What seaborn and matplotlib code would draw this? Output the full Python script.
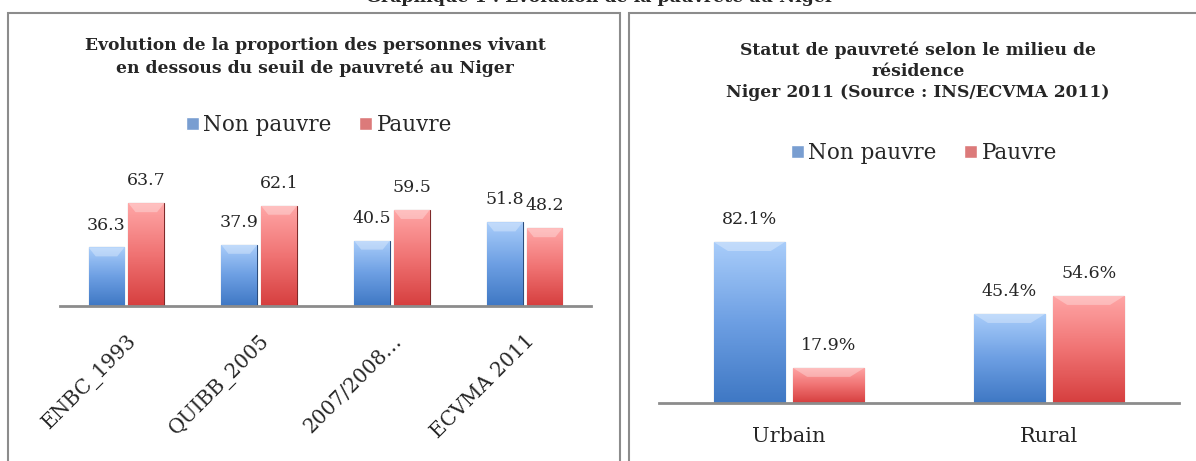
import numpy as np
import pandas as pd
import matplotlib
matplotlib.use("Agg")
import matplotlib.pyplot as plt
import seaborn as sns
from matplotlib.patches import Rectangle, Polygon
from matplotlib.colors import LinearSegmentedColormap

# Data
statuts = ["Non pauvre", "Pauvre"]
enquetes = ["ENBC_1993", "QUIBB_2005", "2007/2008…", "ECVMA 2011"]
non_pauvre_evol = [36.3, 37.9, 40.5, 51.8]
pauvre_evol = [63.7, 62.1, 59.5, 48.2]

milieux = ["Urbain", "Rural"]
non_pauvre_milieu = [82.1, 45.4]
pauvre_milieu = [17.9, 54.6]

df_evol = pd.DataFrame({
    "enquete": enquetes * 2,
    "statut": [statuts[0]] * 4 + [statuts[1]] * 4,
    "valeur": non_pauvre_evol + pauvre_evol,
})
df_milieu = pd.DataFrame({
    "milieu": milieux * 2,
    "statut": [statuts[0]] * 2 + [statuts[1]] * 2,
    "valeur": non_pauvre_milieu + pauvre_milieu,
})

sns.set_style("white")
plt.rcParams["font.family"] = ["DejaVu Serif"]

palette = {"Non pauvre": "#6a9be0", "Pauvre": "#ec6a6a"}
edges = {"Non pauvre": "#2c4d7c", "Pauvre": "#7e2a2a"}
grads = {
    "Non pauvre": LinearSegmentedColormap.from_list("b", ["#3f78c4", "#6d9fe3", "#a9cdfa"]),
    "Pauvre": LinearSegmentedColormap.from_list("r", ["#d63f3f", "#f07373", "#ffa6a6"]),
}

fig = plt.figure(figsize=(11.96, 4.61), dpi=100)
W, H = 1196, 461


def fx(px):
    return px / W


def fy(py):
    return 1 - py / H


# panel frames
for x0, x1 in [(8, 620), (629, 1215)]:
    fig.patches.append(Rectangle((fx(x0), fy(470)), fx(x1 - x0), (470 - 13) / H,
                                 transform=fig.transFigure, fill=False,
                                 edgecolor="#8c8c8c", linewidth=1.5))

# page caption, cut by the top edge as in the source
fig.text(fx(600), fy(1.5), "Graphique 1 : Evolution de la pauvreté au Niger",
         ha="center", va="baseline", fontsize=12.5, fontweight="bold")

ax1 = fig.add_axes([fx(60), fy(306), fx(531), 113 / H])
ax2 = fig.add_axes([fx(659), fy(403), fx(520), 176.5 / H])


def gradient_bars(ax, hue_levels, n_cat, ax_px_h):
    bars = [p for p in ax.patches if p.get_height() > 0]
    xl, yl = ax.get_xlim(), ax.get_ylim()
    g = np.linspace(0, 1, 100).reshape(-1, 1)
    bevel = 9 * (yl[1] - yl[0]) / ax_px_h
    for i, p in enumerate(bars):
        lvl = hue_levels[i // n_cat]
        p.set_edgecolor(edges[lvl])
        p.set_linewidth(0.8)
        x0, y0 = p.get_x(), p.get_y()
        w, h = p.get_width(), p.get_height()
        im = ax.imshow(g, cmap=grads[lvl], origin="lower", aspect="auto",
                       extent=[x0, x0 + w, y0, y0 + h],
                       zorder=p.get_zorder() + 0.1)
        im.set_clip_path(p)
        top = y0 + h
        ax.add_patch(Polygon([(x0, top), (x0 + w, top), (x0 + 0.8 * w, top - bevel),
                              (x0 + 0.2 * w, top - bevel)], closed=True,
                             facecolor="white", alpha=0.3, linewidth=0,
                             zorder=p.get_zorder() + 0.2))
    ax.set_xlim(xl)
    ax.set_ylim(yl)


def style_axis(ax, ymax):
    ax.set_ylim(0, ymax)
    ax.set_yticks([])
    ax.set_xlabel("")
    ax.set_ylabel("")
    for s in ["top", "left", "right"]:
        ax.spines[s].set_visible(False)
    ax.spines["bottom"].set_color("#8c8c8c")
    ax.spines["bottom"].set_linewidth(2)
    ax.spines["bottom"].set_zorder(5)
    ax.tick_params(axis="x", length=0)
    ax.patch.set_alpha(0)


# left chart
sns.barplot(data=df_evol, x="enquete", y="valeur", hue="statut", hue_order=statuts,
            palette=palette, width=0.6, gap=0.1, errorbar=None, ax=ax1)
style_axis(ax1, 70)
for c in ax1.containers:
    ax1.bar_label(c, fmt="%.1f", padding=10, fontsize=12.5)
h1, l1 = ax1.get_legend_handles_labels()
ax1.legend_.remove()
ax1.set_xticks(range(len(enquetes)))
ax1.set_xticklabels(enquetes, rotation=45, ha="right", rotation_mode="anchor", fontsize=14.5)
ax1.tick_params(axis="x", pad=18)
gradient_bars(ax1, statuts, len(enquetes), 113)

# right chart
sns.barplot(data=df_milieu, x="milieu", y="valeur", hue="statut", hue_order=statuts,
            palette=palette, width=0.61, gap=0.1, errorbar=None, ax=ax2)
style_axis(ax2, 90)
for c in ax2.containers:
    ax2.bar_label(c, fmt="%.1f%%", padding=10, fontsize=12.5)
h2, l2 = ax2.get_legend_handles_labels()
ax2.legend_.remove()
ax2.tick_params(axis="x", labelsize=15, pad=17)
gradient_bars(ax2, statuts, len(milieux), 176.5)

# titles
fig.text(fx(315), fy(57), "Evolution de la proportion des personnes vivant\n"
         "en dessous du seuil de pauvreté au Niger", ha="center", va="center",
         fontsize=12.3, fontweight="bold", linespacing=1.4)
fig.text(fx(918), fy(71), "Statut de pauvreté selon le milieu de\nrésidence\n"
         "Niger 2011 (Source : INS/ECVMA 2011)", ha="center", va="center",
         fontsize=12.3, fontweight="bold", linespacing=1.3)

leg_kw = dict(loc="center", ncol=2, frameon=False, fontsize=15.5,
              handlelength=0.6, handleheight=0.6, handletextpad=0.2,
              columnspacing=1.3, bbox_transform=fig.transFigure)
fig.legend(h1, l1, bbox_to_anchor=(fx(319), fy(125)), **leg_kw)
fig.legend(h2, l2, bbox_to_anchor=(fx(924), fy(153)), **leg_kw)

fig.savefig("out.png", dpi=100)
